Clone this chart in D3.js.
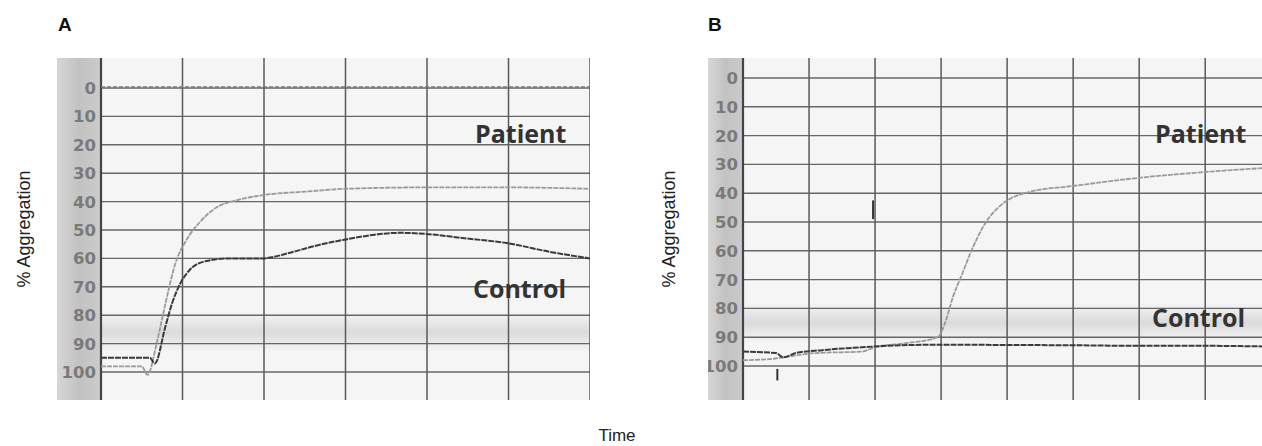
<!DOCTYPE html>
<html lang="en">
<head>
<meta charset="UTF-8">
<script src="https://d3js.org/d3.v7.min.js"></script>
<style>
  body { margin: 0; background: #fff; }
</style>
</head>
<body>
<div id="chart"></div>
<script>
// y ticks (% aggregation, 0 on top)
const yTicks = [0, 10, 20, 30, 40, 50, 60, 70, 80, 90, 100]

// panel A traces, time in grid cells
const patientA = [[0, 98], [0.5, 98], [0.57, 101], [0.69, 89], [0.79, 76], [0.91, 62], [1.06, 53], [1.22, 47],
  [1.42, 42], [1.67, 39.5], [1.99, 37.7], [2.5, 36.5], [3, 35.5], [4, 35], [5, 35], [6, 35.5]]
const controlA = [[0, 95], [0.6, 95], [0.66, 97], [0.79, 84], [0.87, 76], [0.97, 69], [1.09, 64], [1.28, 61],
  [1.58, 60], [1.97, 60], [2.32, 58], [2.57, 56], [2.97, 53.5], [3.67, 51], [3.99, 51.4], [4.49, 53],
  [4.98, 54.6], [5.51, 57.7], [6, 60]]
const refA = [[0, -0.4], [6, -0.4]]

// panel B traces
const patientB = [[0, 98], [0.45, 97.5], [0.61, 97], [1.1, 95.5], [1.8, 95], [2.0, 93.5], [2.5, 92], [2.95, 90],
  [3.06, 85], [3.18, 76], [3.32, 68], [3.44, 61], [3.56, 55], [3.68, 50], [3.82, 46], [3.97, 43],
  [4.35, 39.5], [5, 37.5], [5.98, 34.7], [7.02, 32.6], [7.86, 31.3]]
const controlB = [[0, 95], [0.5, 95.5], [0.61, 97], [0.8, 95.5], [1.2, 94.5], [1.8, 93.5], [2.4, 92.8],
  [3, 92.6], [4, 92.7], [5, 92.8], [6, 93], [7, 93], [7.86, 93.2]]
// small pen marks on B [t, v1, v2]
const marksB = [[0.52, 101, 105], [1.97, 42.5, 49]]

const panels = [
  {id: "A", strip: 57, left: 101, right: 590, top: 58, bottom: 400, y0: 88, y100: 372, tmax: 6,
    patient: patientA, control: controlA, ref: refA, marks: [],
    pLabel: [475, 143], cLabel: [473, 298], letterX: 58, yLabelX: 24, band: [79, 93]},
  {id: "B", strip: 708, left: 743, right: 1262, top: 58, bottom: 400, y0: 78, y100: 366, tmax: 7.86,
    patient: patientB, control: controlB, ref: null, marks: marksB,
    pLabel: [1155, 143], cLabel: [1152, 327], letterX: 708, yLabelX: 669, band: [78, 92]}
]

const svg = d3.select("#chart").append("svg")
  .attr("width", 1262)
  .attr("height", 446)

const defs = svg.append("defs")
let sg = defs.append("linearGradient").attr("id", "stripGrad")
sg.append("stop").attr("offset", "0%").attr("stop-color", "#d6d6d6")
sg.append("stop").attr("offset", "50%").attr("stop-color", "#c2c2c2")
sg.append("stop").attr("offset", "100%").attr("stop-color", "#cbcbcb")
let bg = defs.append("linearGradient").attr("id", "bandGrad")
  .attr("x1", 0).attr("x2", 0).attr("y1", 0).attr("y2", 1)
bg.append("stop").attr("offset", "0%").attr("stop-color", "#d8d8d8").attr("stop-opacity", 0)
bg.append("stop").attr("offset", "50%").attr("stop-color", "#d6d6d6").attr("stop-opacity", 0.85)
bg.append("stop").attr("offset", "100%").attr("stop-color", "#d8d8d8").attr("stop-opacity", 0)

for (const p of panels) {
  const x = d3.scaleLinear().domain([0, p.tmax]).range([p.left, p.right])
  const y = d3.scaleLinear().domain([0, 100]).range([p.y0, p.y100])

  defs.append("clipPath").attr("id", "clip" + p.id)
    .append("rect").attr("x", p.strip).attr("y", p.top)
    .attr("width", p.right - p.strip).attr("height", p.bottom - p.top)

  const g = svg.append("g").attr("clip-path", `url(#clip${p.id})`)

  // paper
  g.append("rect").attr("x", p.left).attr("y", p.top)
    .attr("width", p.right - p.left).attr("height", p.bottom - p.top)
    .attr("fill", "#f5f5f5")
  g.append("rect").attr("x", p.left).attr("y", y(p.band[0]))
    .attr("width", p.right - p.left).attr("height", y(p.band[1]) - y(p.band[0]))
    .attr("fill", "url(#bandGrad)")

  // scale strip
  g.append("rect").attr("x", p.strip).attr("y", p.top)
    .attr("width", p.left - p.strip).attr("height", p.bottom - p.top)
    .attr("fill", "url(#stripGrad)")
  g.selectAll(".ylab").data(yTicks).join("text")
    .attr("x", p.left - 5)
    .attr("y", d => y(d))
    .attr("dy", "0.36em")
    .attr("text-anchor", "end")
    .attr("font-family", "DejaVu Sans")
    .attr("font-weight", "bold")
    .attr("font-size", 16.5)
    .attr("fill", "#7a7a7a")
    .text(d => d)

  // grid
  g.selectAll(".hg").data(yTicks).join("line")
    .attr("x1", p.left).attr("x2", p.right)
    .attr("y1", d => y(d)).attr("y2", d => y(d))
    .attr("stroke", "#666").attr("stroke-width", 1.4)
  g.selectAll(".vg").data(d3.range(1, Math.floor(p.tmax) + 1)).join("line")
    .attr("x1", d => x(d)).attr("x2", d => x(d))
    .attr("y1", p.top).attr("y2", p.bottom)
    .attr("stroke", "#5a5a5a").attr("stroke-width", 1.5)
  g.append("line")
    .attr("x1", p.left).attr("x2", p.left)
    .attr("y1", p.top).attr("y2", p.bottom)
    .attr("stroke", "#444").attr("stroke-width", 2.2)

  const line = d3.line()
    .x(d => x(d[0]))
    .y(d => y(d[1]))
    .curve(d3.curveMonotoneX)

  if (p.ref) {
    g.append("path").attr("d", line(p.ref))
      .attr("fill", "none").attr("stroke", "#777")
      .attr("stroke-width", 1.3).attr("stroke-dasharray", "4,2")
  }
  g.append("path").attr("d", line(p.patient))
    .attr("fill", "none").attr("stroke", "#9a9a9a")
    .attr("stroke-width", 1.8).attr("stroke-dasharray", "5,1")
  g.append("path").attr("d", line(p.control))
    .attr("fill", "none").attr("stroke", "#3a3a3a")
    .attr("stroke-width", 2).attr("stroke-dasharray", "6,1")

  g.selectAll(".mark").data(p.marks).join("line")
    .attr("x1", d => x(d[0])).attr("x2", d => x(d[0]))
    .attr("y1", d => y(d[1])).attr("y2", d => y(d[2]))
    .attr("stroke", "#333").attr("stroke-width", 2)

  // curve labels
  const lab = (pos, t) => g.append("text")
    .attr("x", pos[0]).attr("y", pos[1])
    .attr("font-family", "Open Sans")
    .attr("font-weight", "bold")
    .attr("font-size", 25)
    .attr("fill", "#333")
    .text(t)
  lab(p.pLabel, "Patient")
  lab(p.cLabel, "Control")

  // panel letter
  svg.append("text")
    .attr("x", p.letterX).attr("y", 31)
    .attr("font-family", "Liberation Sans, Arial")
    .attr("font-weight", "bold")
    .attr("font-size", 19)
    .attr("fill", "#111")
    .text(p.id)

  svg.append("text")
    .attr("transform", `translate(${p.yLabelX},${(p.top + p.bottom) / 2}) rotate(-90)`)
    .attr("text-anchor", "middle")
    .attr("dy", "0.35em")
    .attr("font-family", "Liberation Sans, Arial")
    .attr("font-size", 18)
    .attr("fill", "#222")
    .text("% Aggregation")
}

svg.append("text")
  .attr("x", 617).attr("y", 441)
  .attr("text-anchor", "middle")
  .attr("font-family", "Liberation Sans, Arial")
  .attr("font-size", 17)
  .attr("fill", "#222")
  .text("Time")
</script>
</body>
</html>
